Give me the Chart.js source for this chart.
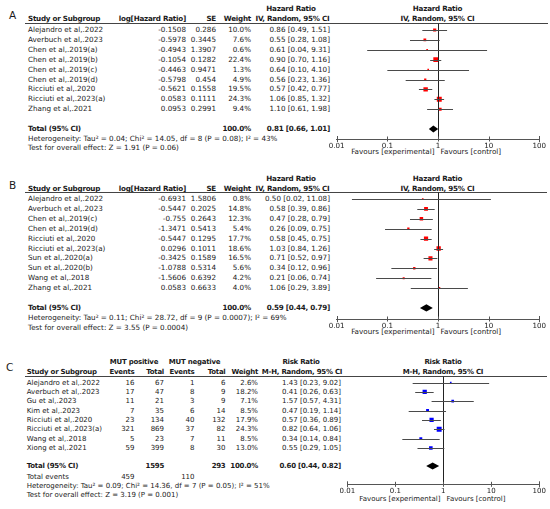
<!DOCTYPE html>
<html><head><meta charset="utf-8">
<script src="https://cdn.jsdelivr.net/npm/chart.js@4.4.1/dist/chart.umd.min.js"></script>
<style>
html,body{margin:0;padding:0;background:#fff;}
#page{position:relative;width:550px;height:509px;overflow:hidden;font-family:"DejaVu Sans",sans-serif;font-size:7.2px;color:#1a1a1a;}
.t{position:absolute;white-space:nowrap;line-height:10px;height:10px;}
.b{font-weight:bold;letter-spacing:-0.25px;}
.rule{position:absolute;height:1px;background:#444;}
canvas{position:absolute;}
</style></head><body><div id="page"></div>
<script>
// ---------- DATA ----------
const tickValues = [0.01, 0.1, 1, 10, 100];
const tickLabels = ['0.01', '0.1', '1', '10', '100'];

// Panel A
const aStudies = ['Alejandro et al,.2022','Averbuch et al,.2023','Chen et al,.2019(a)','Chen et al,.2019(b)','Chen et al,.2019(c)','Chen et al,.2019(d)','Ricciuti et al,.2020','Ricciuti et al,.2023(a)','Zhang et al,.2021'];
const aLogHR = [-0.1508,-0.5978,-0.4943,-0.1054,-0.4463,-0.5798,-0.5621,0.0583,0.0953];
const aSE = [0.286,0.3445,1.3907,0.1282,0.9471,0.454,0.1558,0.1111,0.2991];
const aWeight = [10.0,7.6,0.6,22.4,1.3,4.9,19.5,24.3,9.4];
const aHR = [0.86,0.55,0.61,0.90,0.64,0.56,0.57,1.06,1.10];
const aLo = [0.49,0.28,0.04,0.70,0.10,0.23,0.42,0.85,0.61];
const aHi = [1.51,1.08,9.31,1.16,4.10,1.36,0.77,1.32,1.98];
const aTotal = [0.81,0.66,1.01];
const aHet = 'Heterogeneity: Tau\u00b2 = 0.04; Chi\u00b2 = 14.05, df = 8 (P = 0.08); I\u00b2 = 43%';
const aTest = 'Test for overall effect: Z = 1.91 (P = 0.06)';

// Panel B
const bStudies = ['Alejandro et al,.2022','Averbuch et al,.2023','Chen et al,.2019(c)','Chen et al,.2019(d)','Ricciuti et al,.2020','Ricciuti et al,.2023(a)','Sun et al,.2020(a)','Sun et al,.2020(b)','Wang et al,.2018','Zhang et al,.2021'];
const bLogHR = [-0.6931,-0.5447,-0.755,-1.3471,-0.5447,0.0296,-0.3425,-1.0788,-1.5606,0.0583];
const bSE = [1.5806,0.2025,0.2643,0.5413,0.1295,0.1011,0.1589,0.5314,0.6392,0.6633];
const bWeight = [0.8,14.8,12.3,5.4,17.7,18.6,16.5,5.6,4.2,4.0];
const bHR = [0.50,0.58,0.47,0.26,0.58,1.03,0.71,0.34,0.21,1.06];
const bLo = [0.02,0.39,0.28,0.09,0.45,0.84,0.52,0.12,0.06,0.29];
const bHi = [11.08,0.86,0.79,0.75,0.75,1.26,0.97,0.96,0.74,3.89];
const bTotal = [0.59,0.44,0.79];
const bHet = 'Heterogeneity: Tau\u00b2 = 0.11; Chi\u00b2 = 28.72, df = 9 (P = 0.0007); I\u00b2 = 69%';
const bTest = 'Test for overall effect: Z = 3.55 (P = 0.0004)';

// Panel C
const cStudies = ['Alejandro et al,.2022','Averbuch et al,.2023','Gu et al,.2023','Kim et al,.2023','Ricciuti et al,.2020','Ricciuti et al,.2023(a)','Wang et al,.2018','Xiong et al,.2021'];
const cPosEvents = [16,17,11,7,23,321,5,59];
const cPosTotal = [67,47,21,35,134,869,23,399];
const cNegEvents = [1,8,3,6,40,37,7,8];
const cNegTotal = [6,9,9,14,132,82,11,30];
const cWeight = [2.6,18.2,7.1,8.5,17.9,24.3,8.5,13.0];
const cRR = [1.43,0.41,1.57,0.47,0.57,0.82,0.34,0.55];
const cLo = [0.23,0.26,0.57,0.19,0.36,0.64,0.14,0.29];
const cHi = [9.02,0.63,4.31,1.14,0.89,1.06,0.84,1.05];
const cTotal = [0.60,0.44,0.82];
const cTotals = [1595,293];
const cTotalEvents = [459,110];
const cHet = 'Heterogeneity: Tau\u00b2 = 0.09; Chi\u00b2 = 14.36, df = 7 (P = 0.05); I\u00b2 = 51%';
const cTest = 'Test for overall effect: Z = 3.19 (P = 0.001)';

// ---------- HELPERS ----------
const page = document.getElementById('page');
function txt(x, y, s, align, bold, size) {
  const d = document.createElement('div');
  d.className = 't' + (bold ? ' b' : '');
  d.textContent = s;
  d.style.left = x + 'px';
  d.style.top = (y - 5) + 'px';
  if (align === 'right') d.style.transform = 'translateX(-100%)';
  else if (align === 'center') d.style.transform = 'translateX(-50%)';
  if (size) d.style.fontSize = size + 'px';
  page.appendChild(d);
}
function rule(x1, x2, y) {
  const d = document.createElement('div');
  d.className = 'rule';
  d.style.left = x1 + 'px'; d.style.width = (x2 - x1) + 'px'; d.style.top = (y - 0.5) + 'px';
  page.appendChild(d);
}
const ci = (e, l, h) => e.toFixed(2) + ' [' + l.toFixed(2) + ', ' + h.toFixed(2) + ']';

const forestPlugin = {
  id: 'forest',
  afterDatasetsDraw(chart) {
    const o = chart.options.plugins.forest;
    const x = chart.scales.x, y = chart.scales.y, ctx = chart.ctx, a = chart.chartArea;
    ctx.save();
    // line of no effect
    ctx.strokeStyle = '#222'; ctx.lineWidth = 1;
    const x1 = Math.round(x.getPixelForValue(1)) + 0.5;
    ctx.beginPath(); ctx.moveTo(x1, a.top); ctx.lineTo(x1, a.bottom); ctx.stroke();
    // whiskers
    ctx.strokeStyle = '#4a4a4a';
    o.lo.forEach((l, i) => {
      const yy = Math.round(y.getPixelForValue(i)) + 0.5;
      ctx.beginPath(); ctx.moveTo(x.getPixelForValue(l), yy); ctx.lineTo(x.getPixelForValue(o.hi[i]), yy); ctx.stroke();
    });
    // diamond
    const yt = y.getPixelForValue(o.totalRow);
    ctx.fillStyle = '#000';
    ctx.beginPath();
    ctx.moveTo(x.getPixelForValue(o.total[1]), yt);
    ctx.lineTo(x.getPixelForValue(o.total[0]), yt - 3.6);
    ctx.lineTo(x.getPixelForValue(o.total[2]), yt);
    ctx.lineTo(x.getPixelForValue(o.total[0]), yt + 3.6);
    ctx.closePath(); ctx.fill();
    // axis tick marks crossing the axis line
    ctx.strokeStyle = '#555';
    tickValues.forEach((v, k) => {
      const xx = Math.round(x.getPixelForValue(v)) + 0.5;
      const h = (k === 0 || k === tickValues.length - 1) ? 3 : 2.5;
      ctx.beginPath(); ctx.moveTo(xx, a.bottom - h); ctx.lineTo(xx, a.bottom + h); ctx.stroke();
    });
    ctx.restore();
  }
};

function forest(p) {
  const cv = document.createElement('canvas');
  cv.width = p.w; cv.height = p.h;
  cv.style.left = p.left + 'px'; cv.style.top = p.top + 'px';
  cv.style.width = p.w + 'px'; cv.style.height = p.h + 'px';
  page.appendChild(cv);
  const sizes = p.weight.map(w => Math.max(1.6, Math.sqrt(w) * 1.0) / Math.SQRT2);
  new Chart(cv, {
    type: 'scatter',
    data: {
      datasets: [{
        data: p.est.map((v, i) => ({ x: v, y: i })),
        pointStyle: 'rect',
        pointRadius: sizes,
        pointHoverRadius: sizes,
        pointBorderWidth: 0,
        backgroundColor: p.color,
        borderColor: p.color
      }]
    },
    options: {
      responsive: false, animation: false,
      layout: { padding: p.pad },
      plugins: {
        legend: { display: false }, tooltip: { enabled: false },
        forest: { lo: p.lo, hi: p.hi, total: p.total, totalRow: p.totalRow }
      },
      scales: {
        x: {
          type: 'logarithmic', min: 0.01, max: 100, position: 'bottom',
          afterBuildTicks: s => { s.ticks = tickValues.map(v => ({ value: v, major: true })); },
          afterFit: s => { s.height = 10; s.paddingLeft = 0; s.paddingRight = 0; },
          grid: { display: false, drawTicks: false },
          border: { display: true, color: '#555', width: 1 },
          ticks: {
            autoSkip: false, maxRotation: 0, padding: 3,
            color: '#1a1a1a',
            font: { family: 'DejaVu Sans', size: p.fs },
            callback: (v, i) => tickLabels[i]
          }
        },
        y: { type: 'linear', reverse: true, min: p.ymin, max: p.ymax, display: false }
      }
    },
    plugins: [forestPlugin]
  });
}

// ---------- PANEL A ----------
(function () {
  const r0 = 30, dr = 9.9;
  txt(9, 15, 'A', 'left', false, 10.5);
  txt(291, 9, 'Hazard Ratio', 'center', true);
  txt(437.5, 9, 'Hazard Ratio', 'center', true);
  txt(28, 19, 'Study or Subgroup', 'left', true);
  txt(186, 19, 'log[Hazard Ratio]', 'right', true);
  txt(216, 19, 'SE', 'right', true);
  txt(251, 19, 'Weight', 'right', true);
  txt(292.5, 19, 'IV, Random, 95% CI', 'center', true);
  txt(437.5, 19, 'IV, Random, 95% CI', 'center', true);
  rule(25, 548, 23.5);
  aStudies.forEach((s, i) => {
    const y = r0 + dr * i;
    txt(28, y, s, 'left');
    txt(186, y, String(aLogHR[i]), 'right');
    txt(216, y, String(aSE[i]), 'right');
    txt(251, y, aWeight[i].toFixed(1) + '%', 'right');
    txt(330, y, ci(aHR[i], aLo[i], aHi[i]), 'right');
  });
  const yt = r0 + dr * 10;
  txt(28, yt, 'Total (95% CI)', 'left', true);
  txt(251, yt, '100.0%', 'right', true);
  txt(330, yt, ci(aTotal[0], aTotal[1], aTotal[2]), 'right', true);
  txt(28, 138.5, aHet, 'left');
  txt(28, 148, aTest, 'left');
  txt(434.5, 151.5, 'Favours [experimental]', 'right');
  txt(440.5, 151.5, 'Favours [control]', 'left');
  forest({ left: 300, top: 0, w: 250, h: 165,
    pad: { left: 36.7, right: 10.7, top: 23.5, bottom: 16 },
    ymin: (23.5 - r0) / dr, ymax: (139 - r0) / dr, totalRow: 10,
    est: aHR, lo: aLo, hi: aHi, weight: aWeight, total: aTotal, color: '#ff0000', fs: 7.1 });
})();

// ---------- PANEL B ----------
(function () {
  const r0 = 199, dr = 9.9;
  txt(9, 185, 'B', 'left', false, 10.5);
  txt(291, 178.5, 'Hazard Ratio', 'center', true);
  txt(437.5, 178.5, 'Hazard Ratio', 'center', true);
  txt(28, 188.5, 'Study or Subgroup', 'left', true);
  txt(186, 188.5, 'log[Hazard Ratio]', 'right', true);
  txt(216, 188.5, 'SE', 'right', true);
  txt(251, 188.5, 'Weight', 'right', true);
  txt(292.5, 188.5, 'IV, Random, 95% CI', 'center', true);
  txt(437.5, 188.5, 'IV, Random, 95% CI', 'center', true);
  rule(25, 547, 192.5);
  bStudies.forEach((s, i) => {
    const y = r0 + dr * i;
    txt(28, y, s, 'left');
    txt(186, y, String(bLogHR[i]), 'right');
    txt(216, y, String(bSE[i]), 'right');
    txt(251, y, bWeight[i].toFixed(1) + '%', 'right');
    txt(330, y, ci(bHR[i], bLo[i], bHi[i]), 'right');
  });
  const yt = r0 + dr * 11;
  txt(28, yt, 'Total (95% CI)', 'left', true);
  txt(251, yt, '100.0%', 'right', true);
  txt(330, yt, ci(bTotal[0], bTotal[1], bTotal[2]), 'right', true);
  txt(28, 318, bHet, 'left');
  txt(28, 327.5, bTest, 'left');
  txt(434.5, 331.5, 'Favours [experimental]', 'right');
  txt(440.5, 331.5, 'Favours [control]', 'left');
  forest({ left: 300, top: 170, w: 250, h: 170,
    pad: { left: 36.7, right: 10.7, top: 22.5, bottom: 11 },
    ymin: (192.5 - r0) / dr, ymax: (319 - r0) / dr, totalRow: 11,
    est: bHR, lo: bLo, hi: bHi, weight: bWeight, total: bTotal, color: '#ff0000', fs: 7.1 });
})();

// ---------- PANEL C ----------
(function () {
  const r0 = 382.5, dr = 9.35, fs = 7.0;
  txt(6, 367, 'C', 'left', false, 10.5);
  txt(134, 362, 'MUT positive', 'center', true, fs);
  txt(194.5, 362, 'MUT negative', 'center', true, fs);
  txt(301, 362, 'Risk Ratio', 'center', true, fs);
  txt(443, 362, 'Risk Ratio', 'center', true, fs);
  txt(26.7, 372, 'Study or Subgroup', 'left', true, fs);
  txt(134.5, 372, 'Events', 'right', true, fs);
  txt(164, 372, 'Total', 'right', true, fs);
  txt(194.5, 372, 'Events', 'right', true, fs);
  txt(225.5, 372, 'Total', 'right', true, fs);
  txt(258, 372, 'Weight', 'right', true, fs);
  txt(302, 372, 'M-H, Random, 95% CI', 'center', true, fs);
  txt(443, 372, 'M-H, Random, 95% CI', 'center', true, fs);
  rule(25, 547, 376.5);
  cStudies.forEach((s, i) => {
    const y = r0 + dr * i;
    txt(26.7, y, s, 'left', false, fs);
    txt(134.5, y, String(cPosEvents[i]), 'right', false, fs);
    txt(164, y, String(cPosTotal[i]), 'right', false, fs);
    txt(194.5, y, String(cNegEvents[i]), 'right', false, fs);
    txt(225.5, y, String(cNegTotal[i]), 'right', false, fs);
    txt(258, y, cWeight[i].toFixed(1) + '%', 'right', false, fs);
    txt(341, y, ci(cRR[i], cLo[i], cHi[i]), 'right', false, fs);
  });
  const yt = 466;
  txt(26.7, yt, 'Total (95% CI)', 'left', true, fs);
  txt(164, yt, String(cTotals[0]), 'right', true, fs);
  txt(225.5, yt, String(cTotals[1]), 'right', true, fs);
  txt(258, yt, '100.0%', 'right', true, fs);
  txt(341, yt, ci(cTotal[0], cTotal[1], cTotal[2]), 'right', true, fs);
  txt(26.7, 476.5, 'Total events', 'left', false, fs);
  txt(134.5, 476.5, String(cTotalEvents[0]), 'right', false, fs);
  txt(194.5, 476.5, String(cTotalEvents[1]), 'right', false, fs);
  txt(26.7, 486, cHet, 'left', false, fs);
  txt(26.7, 495, cTest, 'left', false, fs);
  txt(440.5, 499, 'Favours [experimental]', 'right', false, fs);
  txt(446.5, 499, 'Favours [control]', 'left', false, fs);
  forest({ left: 300, top: 345, w: 250, h: 164,
    pad: { left: 47.3, right: 10.7, top: 31.5, bottom: 14.7 },
    ymin: (376.5 - r0) / dr, ymax: (484.3 - r0) / dr, totalRow: (466 - r0) / dr,
    est: cRR, lo: cLo, hi: cHi, weight: cWeight, total: cTotal, color: '#0000ff', fs: fs });
})();
</script></body></html>
